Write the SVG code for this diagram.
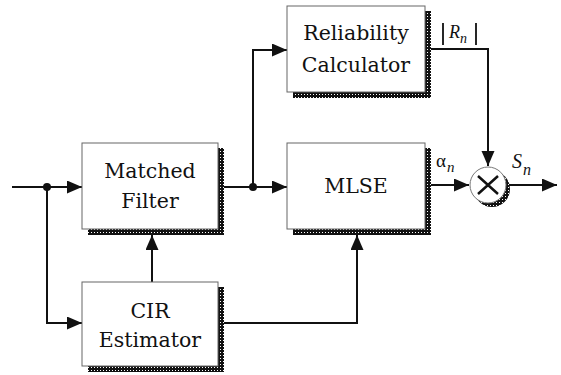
<svg xmlns="http://www.w3.org/2000/svg" width="561" height="375" viewBox="0 0 561 375">
<style>
.box{fill:#fff;stroke:#666;stroke-width:1}
.sh{fill:url(#dots)}
.lbl{font-family:"DejaVu Serif","Liberation Serif",serif;font-size:20.5px;fill:#111;text-anchor:middle}
.math{font-family:"Liberation Serif","DejaVu Serif",serif;fill:#111}
.ln{fill:none;stroke:#111;stroke-width:2}
.arr{marker-end:url(#ah)}
</style>
<defs>
<pattern id="dots" width="3" height="3" patternUnits="userSpaceOnUse">
<rect width="3" height="3" fill="#111"/>
<rect x="1" y="1" width="1" height="1" fill="#fff"/>
</pattern>
<marker id="ah" markerWidth="16" markerHeight="14" refX="15" refY="6.5" orient="auto" markerUnits="userSpaceOnUse">
<path d="M0,0 L15,6.5 L0,13 z" fill="#111"/>
</marker>
</defs>

<g id="connectors">
<path class="ln" d="M12,187 H47"/>
<path class="ln arr" d="M47,187 H82"/>
<path class="ln arr" d="M47,187 V323 H82"/>
<path class="ln arr" d="M152,282 V235"/>
<path class="ln" d="M224,187 H253"/>
<path class="ln arr" d="M253,187 H287"/>
<path class="ln arr" d="M253,187 V50 H287"/>
<path class="ln arr" d="M224,323 H357 V235"/>
<path class="ln arr" d="M431,49 H488 V166"/>
<path class="ln arr" d="M431,185 H469"/>
<path class="ln arr" d="M507,185 H557"/>
<circle cx="47" cy="187" r="4" fill="#111"/>
<circle cx="253" cy="187" r="4" fill="#111"/>
</g>

<g id="matched-filter">
<path class="sh" d="M218,148 H224 V235 H88 V229 H218 Z"/>
<rect class="box" x="82" y="143" width="136" height="86"/>
<text class="lbl" x="150" y="178">Matched</text>
<text class="lbl" x="150" y="208">Filter</text>
</g>

<g id="cir-estimator">
<path class="sh" d="M218,287 H224 V372 H88 V366 H218 Z"/>
<rect class="box" x="82" y="282" width="136" height="84"/>
<text class="lbl" x="150" y="318">CIR</text>
<text class="lbl" x="150" y="347">Estimator</text>
</g>

<g id="reliability-calculator">
<path class="sh" d="M425,11 H431 V98 H293 V92 H425 Z"/>
<rect class="box" x="287" y="6" width="138" height="86"/>
<text class="lbl" x="356" y="40">Reliability</text>
<text class="lbl" x="356" y="72">Calculator</text>
</g>

<g id="mlse">
<path class="sh" d="M425,148 H431 V235 H293 V229 H425 Z"/>
<rect class="box" x="287" y="143" width="138" height="86"/>
<text class="lbl" x="356" y="193">MLSE</text>
</g>

<g id="multiplier">
<circle cx="492" cy="189" r="18" class="sh"/>
<circle cx="488" cy="185" r="18" fill="#fff" stroke="#777" stroke-width="1"/>
<path d="M478,176 L498,194 M498,176 L478,194" stroke="#111" stroke-width="2.5" fill="none"/>
</g>

<g id="labels">
<text class="math" x="436" y="167" font-size="19" font-family="DejaVu Serif, serif">α<tspan font-size="15" font-style="italic" font-family="Liberation Serif, serif" dx="1" dy="5">n</tspan></text>
<text class="math" x="512" y="168" font-size="20" font-style="italic">S<tspan font-size="16" dx="1" dy="7">n</tspan></text>
<path d="M443,23 V45 M476,23 V45" stroke="#111" stroke-width="1.8"/>
<text class="math" x="449" y="38" font-size="18" font-style="italic">R<tspan font-size="14" dy="5">n</tspan></text>
</g>
</svg>
